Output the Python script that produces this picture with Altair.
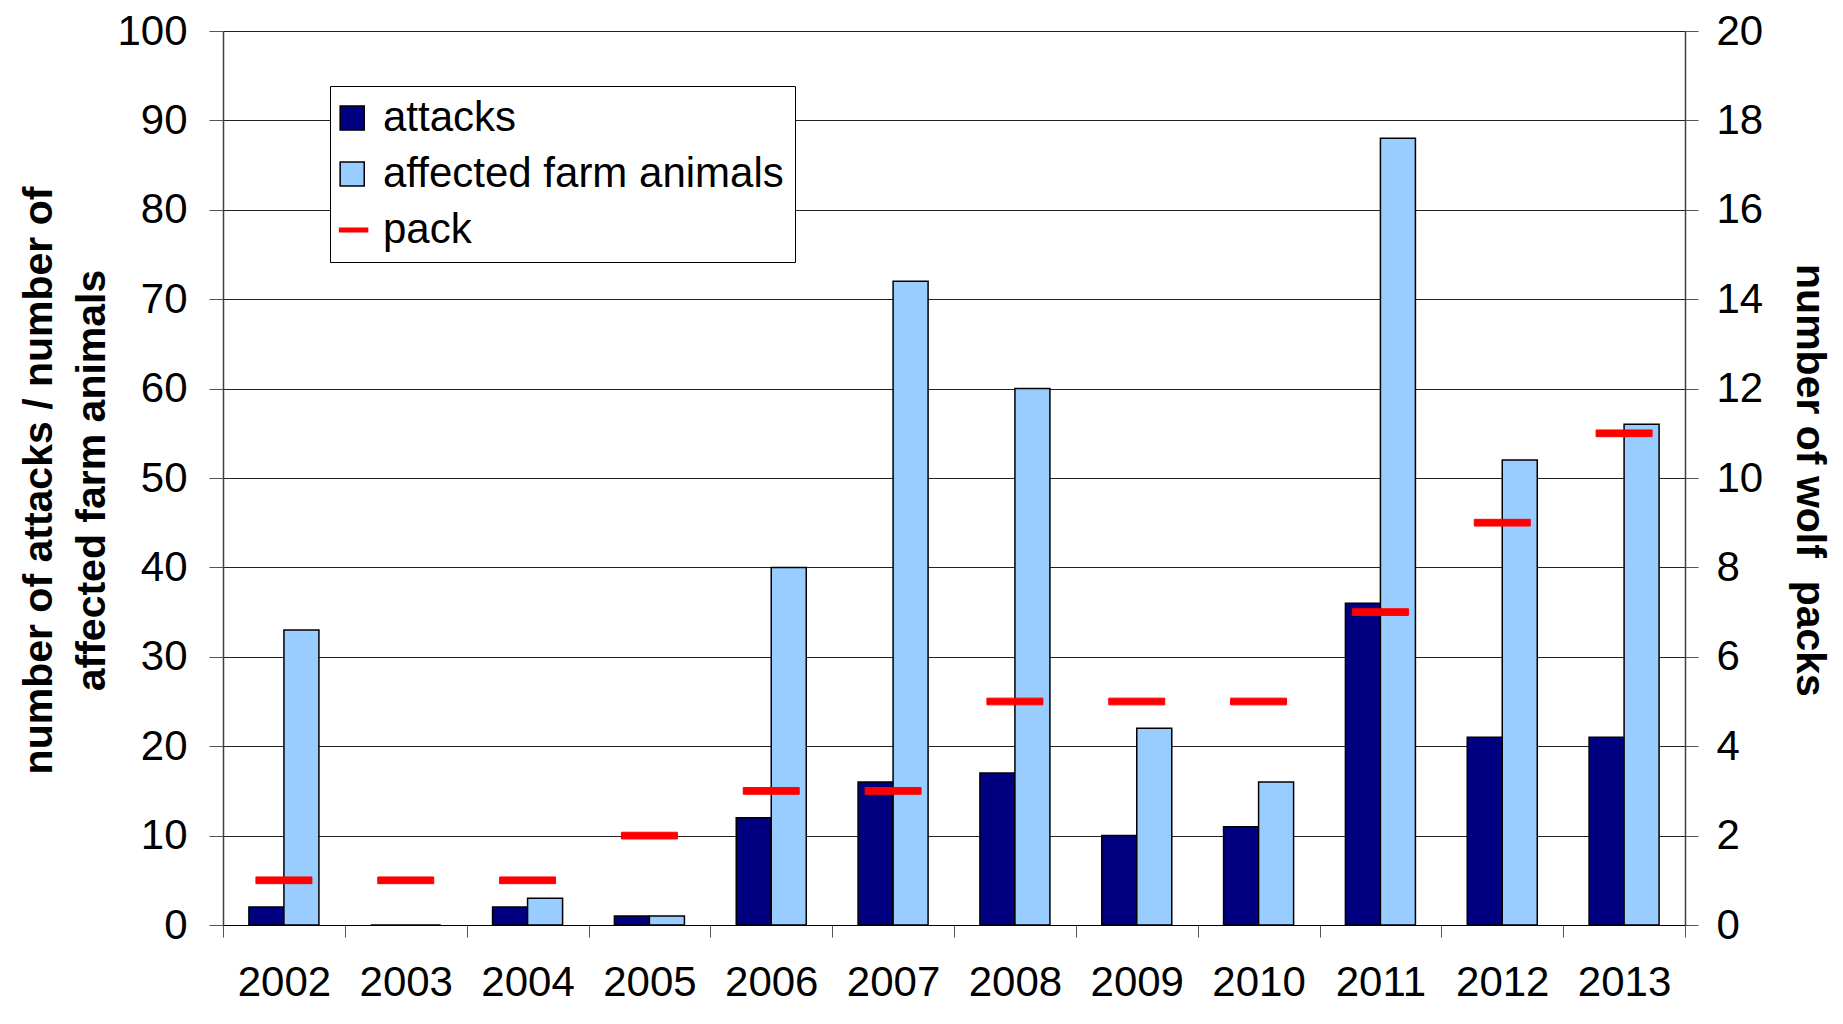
import altair as alt
import pandas as pd

years = ["2002", "2003", "2004", "2005", "2006", "2007", "2008", "2009", "2010", "2011", "2012", "2013"]
attacks = [2, 0, 2, 1, 12, 16, 17, 10, 11, 36, 21, 21]
affected = [33, 0, 3, 1, 40, 72, 60, 22, 16, 88, 52, 56]
packs = [1, 1, 1, 2, 3, 3, 5, 5, 5, 7, 9, 11]

series_names = ["attacks", "affected farm animals", "pack"]
fill_colors = ["#000080", "#99CCFF", "#FF0000"]
stroke_colors = ["#000000", "#000000", "#FF0000"]
shapes = ["M-1.56,-0.86H0.16V0.86H-1.56Z", "M-1.56,-0.86H0.16V0.86H-1.56Z", "M-1.6,-0.12H0.4V0.12H-1.6Z"]

left_ticks = list(range(0, 101, 10))
right_ticks = list(range(0, 21, 2))

bars_df = pd.DataFrame({
    "year": years * 2,
    "series": [series_names[0]] * len(years) + [series_names[1]] * len(years),
    "value": attacks + affected,
})
pack_df = pd.DataFrame({"year": years, "series": [series_names[2]] * len(years), "value": packs})

FONT = "Liberation Sans"

x_axis = alt.Axis(
    title=None, tickBand="extent", labelAngle=0, labelPadding=25, tickSize=12,
    labelFontSize=42, labelColor="#000000", domainColor="#000000", tickColor="#555555",
    grid=False,
)
x_scale = alt.Scale(paddingInner=0, paddingOuter=0)

color_scale = alt.Scale(domain=series_names, range=fill_colors)
stroke_scale = alt.Scale(domain=series_names, range=stroke_colors)
shape_scale = alt.Scale(domain=series_names, range=shapes)

bars = alt.Chart(bars_df).mark_bar(strokeWidth=1.5).encode(
    x=alt.X("year:N", sort=years, scale=x_scale, axis=x_axis),
    xOffset=alt.XOffset("series:N", scale=alt.Scale(domain=series_names[:2], paddingInner=0, paddingOuter=0.74)),
    y=alt.Y(
        "value:Q",
        scale=alt.Scale(domain=[0, 100]),
        axis=alt.Axis(
            values=left_ticks, tickSize=14, labelPadding=22, labelFontSize=42, labelColor="#000000",
            grid=True, gridColor="#222222", gridWidth=1,
            domainColor="#404040", domainWidth=1.5, tickColor="#555555",
            title=["number of attacks / number of", "affected farm animals"],
            titleFontSize=41, titleFontWeight="bold", titleLineHeight=53,
            titleX=-184, titleY=449, titleBaseline="middle", titleAngle=-90, titleColor="#000000",
        ),
    ),
    color=alt.Color("series:N", scale=color_scale, title=None),
    stroke=alt.Stroke("series:N", scale=stroke_scale, title=None),
)

pack_layer = alt.Chart(pack_df).mark_point(filled=True, size=3136, strokeWidth=1, opacity=1, xOffset=16.8).encode(
    x=alt.X("year:N", sort=years, scale=x_scale, axis=x_axis),
    y=alt.Y(
        "value:Q",
        scale=alt.Scale(domain=[0, 20]),
        axis=alt.Axis(
            orient="right", values=right_ticks, tickSize=13, labelPadding=18, labelFontSize=42,
            labelColor="#000000", grid=False, domainColor="#404040", domainWidth=1.5, tickColor="#555555",
            title="number of wolf\u00a0 packs", titleFontSize=41, titleFontWeight="bold",
            titleX=123, titleY=449, titleBaseline="middle", titleAngle=90, titleColor="#000000",
        ),
    ),
    color=alt.Color("series:N", scale=color_scale, title=None),
    stroke=alt.Stroke("series:N", scale=stroke_scale, title=None),
    shape=alt.Shape("series:N", scale=shape_scale, title=None),
)

chart = alt.layer(bars, pack_layer).resolve_scale(y="independent").properties(
    width=1462,
    height=894,
    autosize=alt.AutoSizeParams(type="none"),
    padding={"left": 215, "top": 23, "right": 148, "bottom": 86},
).configure(
    font=FONT,
).configure_view(
    stroke="transparent",
).configure_legend(
    orient="none", legendX=107, legendY=55,
    fillColor="#FFFFFF", strokeColor="#000000", padding=11, cornerRadius=0,
    labelFontSize=42, labelFont=FONT, labelColor="#000000", labelOffset=0, labelLimit=0,
    symbolSize=784, symbolStrokeWidth=1.5, rowPadding=14,
)

chart.save("out.html", embed_options={"renderer": "svg", "actions": False})
